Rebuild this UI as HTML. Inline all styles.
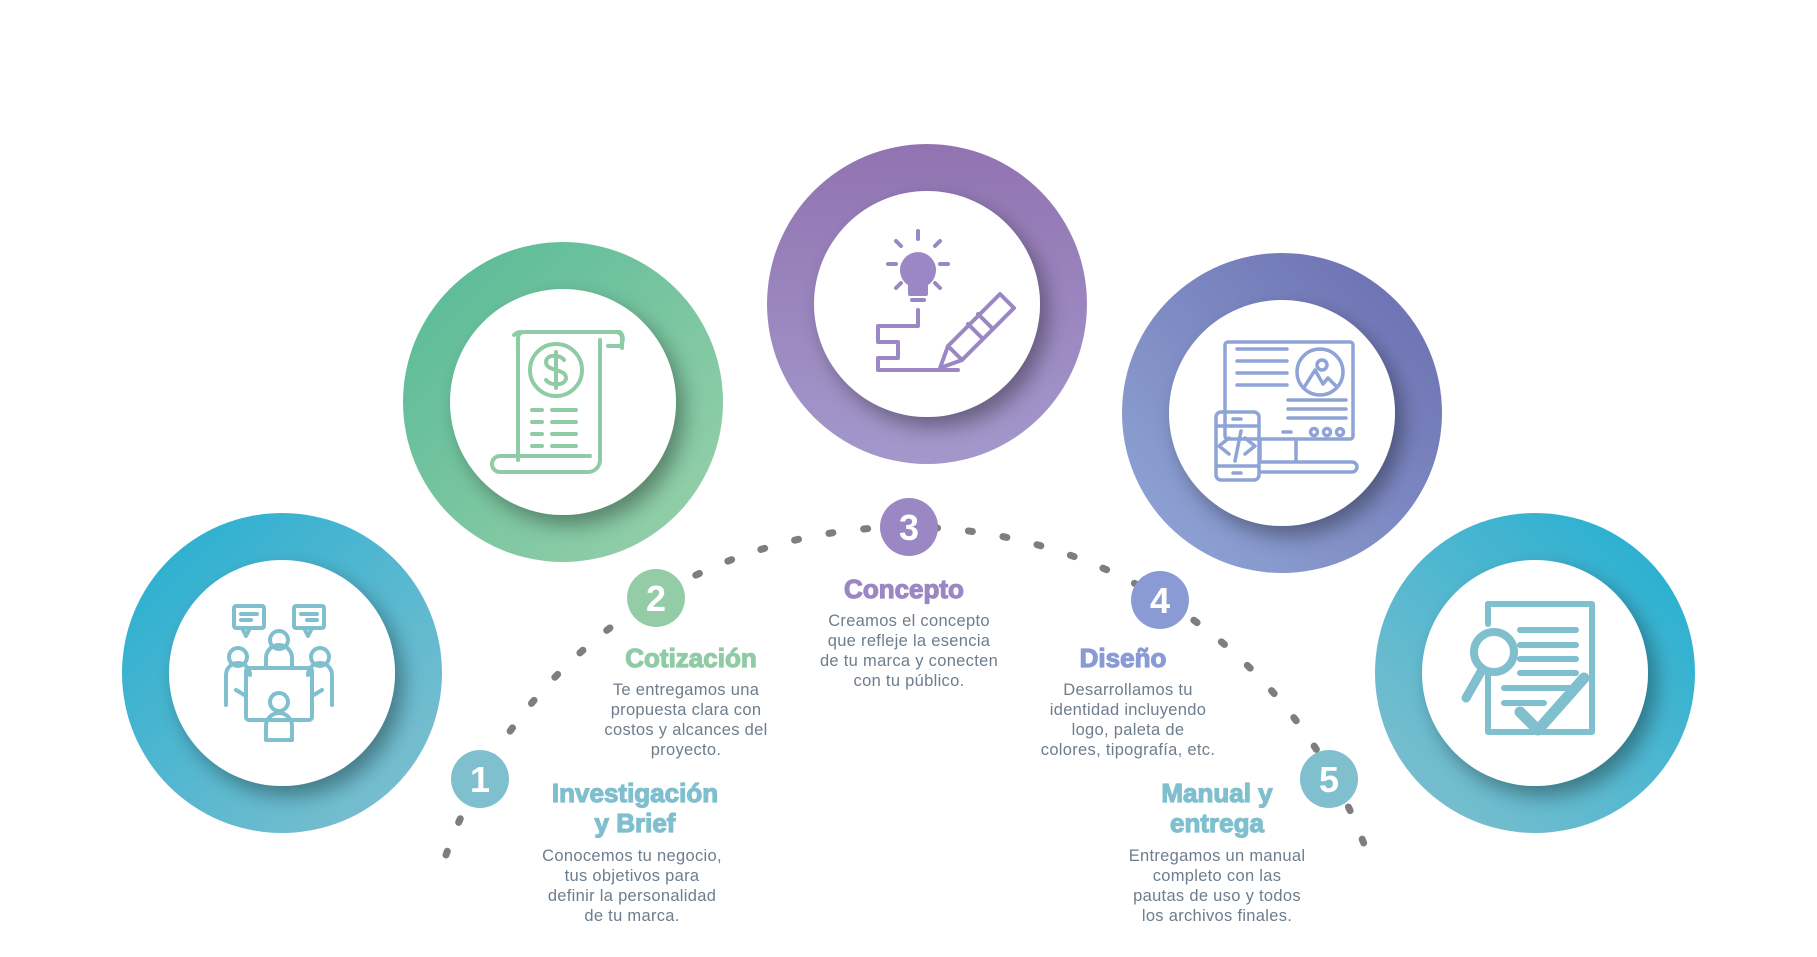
<!DOCTYPE html>
<html><head><meta charset="utf-8">
<style>
html,body{margin:0;padding:0;background:#fff;}
svg{display:block;}
.t{font-family:"Liberation Sans",sans-serif;font-weight:bold;font-size:26px;text-anchor:middle;stroke-width:1.2px;}
.b{font-family:"Liberation Sans",sans-serif;font-size:16.5px;fill:#6e7d8c;text-anchor:middle;letter-spacing:0.3px;}
.n{font-family:"Liberation Sans",sans-serif;font-weight:bold;font-size:36px;fill:#fff;text-anchor:middle;}
</style></head><body>
<svg width="1817" height="957" viewBox="0 0 1817 957" xmlns="http://www.w3.org/2000/svg">
<defs>
<linearGradient id="g1" x1="0" y1="0" x2="1" y2="1"><stop offset="0" stop-color="#22aed2"/><stop offset="1" stop-color="#85c0cd"/></linearGradient>
<linearGradient id="g2" x1="0" y1="0" x2="1" y2="1"><stop offset="0" stop-color="#55b996"/><stop offset="1" stop-color="#9ad1aa"/></linearGradient>
<linearGradient id="g3" x1="0.5" y1="0" x2="0.5" y2="1"><stop offset="0" stop-color="#9173b1"/><stop offset="1" stop-color="#a398cb"/></linearGradient>
<linearGradient id="g4" x1="1" y1="0" x2="0" y2="1"><stop offset="0" stop-color="#6a6cae"/><stop offset="1" stop-color="#91a8d8"/></linearGradient>
<linearGradient id="g5" x1="1" y1="0" x2="0" y2="1"><stop offset="0" stop-color="#1eaed2"/><stop offset="1" stop-color="#85c0cd"/></linearGradient>
<filter id="sh" x="-30%" y="-30%" width="160%" height="160%"><feGaussianBlur in="SourceAlpha" stdDeviation="10"/><feOffset dx="8" dy="10"/><feComponentTransfer><feFuncA type="linear" slope="0.35"/></feComponentTransfer><feMerge><feMergeNode/><feMergeNode in="SourceGraphic"/></feMerge></filter>
</defs>

<path d="M446 855 A488 488 0 0 1 1368 855" fill="none" stroke="#7e7e7e" stroke-width="7" stroke-linecap="round" stroke-dasharray="4 31"/>

<circle cx="282" cy="673" r="160" fill="url(#g1)"/><circle cx="282" cy="673" r="113" fill="#fff" filter="url(#sh)"/>
<circle cx="563" cy="402" r="160" fill="url(#g2)"/><circle cx="563" cy="402" r="113" fill="#fff" filter="url(#sh)"/>
<circle cx="927" cy="304" r="160" fill="url(#g3)"/><circle cx="927" cy="304" r="113" fill="#fff" filter="url(#sh)"/>
<circle cx="1282" cy="413" r="160" fill="url(#g4)"/><circle cx="1282" cy="413" r="113" fill="#fff" filter="url(#sh)"/>
<circle cx="1535" cy="673" r="160" fill="url(#g5)"/><circle cx="1535" cy="673" r="113" fill="#fff" filter="url(#sh)"/>

<g fill="none" stroke="#7fbfce" stroke-width="4" stroke-linecap="round" stroke-linejoin="round">
<rect x="234" y="606" width="30" height="22" rx="2"/><path d="M242 628 l4 8 l4-8"/><path d="M241 614h16M241 620h10"/>
<rect x="294" y="606" width="30" height="22" rx="2"/><path d="M304 628 l4 8 l4-8"/><path d="M301 614h16M307 620h10"/>
<circle cx="279" cy="640" r="9"/><path d="M266 668 v-10 a13 13 0 0 1 26 0 v10"/>
<circle cx="238" cy="657" r="9"/><path d="M226 705 v-30 a12 12 0 0 1 24 0"/>
<circle cx="320" cy="657" r="9"/><path d="M332 705 v-30 a12 12 0 0 0 -24 0"/>
<rect x="246" y="668" width="66" height="52" rx="3"/>
<circle cx="279" cy="702" r="9"/><path d="M266 740 v-14 a13 13 0 0 1 26 0 v14z"/>
<path d="M236 690 l10 6 M322 690 l-10 6"/>
</g>

<g fill="none" stroke="#8fcca5" stroke-width="4" stroke-linecap="round" stroke-linejoin="round">
<path d="M518 460 V338 a6 6 0 0 1 6-6 H616 a6 6 0 0 1 6 6 V348 M514 335 a10 10 0 0 1 8-3"/>
<path d="M602 332 h18 a10 10 0 0 1 0 14 h-12"/>
<path d="M600 340 V460 a12 12 0 0 1 -12 12 H500 a8 8 0 0 1 0-16 H590"/>
<circle cx="556" cy="370" r="26"/>
<path d="M564 360 c-4-6-18-6-18 2 c0 10 20 6 20 16 c0 8-16 8-20 2 M556 352v36"/>
<path d="M532 410h10M552 410h24M532 422h10M552 422h24M532 434h10M552 434h24M532 446h10M552 446h24"/>
</g>

<g fill="none" stroke="#9a87c3" stroke-width="4" stroke-linecap="round" stroke-linejoin="round">
<path d="M918 231v8M896 241l5 5M940 241l-5 5M888 264h8M940 264h8M896 288l5-5M940 288l-5-5"/>
<path d="M910 284 a16 16 0 1 1 16 0 v10 h-16z" fill="#9a87c3"/>
<path d="M912 300h12"/>
<path d="M918 310 v16 h-40 v16 h20 v16 h-20 v12 h80"/>
<path d="M940 368 l8-22 l52-52 l14 14 l-52 52z M948 346 l14 14 M968 324 l14 14 M978 314 l14 14"/>
</g>

<g fill="none" stroke="#8ea4d6" stroke-width="3.5" stroke-linecap="round" stroke-linejoin="round">
<rect x="1225" y="342" width="128" height="97" rx="3"/>
<path d="M1237 349h50M1237 361h50M1237 373h50M1237 385h50M1288 400h58M1288 409h58M1288 418h58M1283 432h8"/>
<circle cx="1320" cy="372" r="23"/><circle cx="1322" cy="365" r="5"/><path d="M1305 386 l10-16 l8 14 l5-6 l8 8"/>
<circle cx="1314" cy="432" r="3.5"/><circle cx="1327" cy="432" r="3.5"/><circle cx="1340" cy="432" r="3.5"/>
<path d="M1260 440v22M1296 440v22M1260 462h92a5 5 0 0 1 0 10h-92"/>
<rect x="1216" y="412" width="43" height="68" rx="5"/><path d="M1233 419h8M1233 473h8M1218 426h40M1218 466h40M1229 438l-10 8 10 8M1245 438l10 8-10 8M1241 431l-6 30"/>
</g>

<g fill="none" stroke="#7fbfce" stroke-width="6" stroke-linecap="round" stroke-linejoin="round">
<path d="M1488 604 h104 v128 h-104 v-60"/><path d="M1488 604v20"/>
<path d="M1520 630h56M1520 645h56M1520 659h56M1520 673h56M1504 688h68M1504 703h40"/>
<circle cx="1494" cy="652" r="20" stroke-width="8"/><path d="M1482 670 l-16 28" stroke-width="9"/>
<path d="M1520 712 l18 18 l46-52" stroke-width="11"/>
</g>

<circle cx="480" cy="779" r="29" fill="#7fbfce"/><text class="n" x="480" y="792">1</text>
<circle cx="656" cy="598" r="29" fill="#93cca6"/><text class="n" x="656" y="611">2</text>
<circle cx="909" cy="527" r="29" fill="#9a87c3"/><text class="n" x="909" y="540">3</text>
<circle cx="1160" cy="600" r="29" fill="#8a9ad4"/><text class="n" x="1160" y="613">4</text>
<circle cx="1329" cy="779" r="29" fill="#7fbfce"/><text class="n" x="1329" y="792">5</text>

<text class="t" x="635" y="802" fill="#7fbfce" stroke="#7fbfce">Investigación</text>
<text class="t" x="635" y="832" fill="#7fbfce" stroke="#7fbfce">y Brief</text>
<text class="b" x="632" y="861">Conocemos tu negocio,</text>
<text class="b" x="632" y="881">tus objetivos para</text>
<text class="b" x="632" y="901">definir la personalidad</text>
<text class="b" x="632" y="921">de tu marca.</text>

<text class="t" x="691" y="667" fill="#8fcca5" stroke="#8fcca5">Cotización</text>
<text class="b" x="686" y="695">Te entregamos una</text>
<text class="b" x="686" y="715">propuesta clara con</text>
<text class="b" x="686" y="735">costos y alcances del</text>
<text class="b" x="686" y="755">proyecto.</text>

<text class="t" x="904" y="598" fill="#9a87c3" stroke="#9a87c3">Concepto</text>
<text class="b" x="909" y="626">Creamos el concepto</text>
<text class="b" x="909" y="646">que refleje la esencia</text>
<text class="b" x="909" y="666">de tu marca y conecten</text>
<text class="b" x="909" y="686">con tu público.</text>

<text class="t" x="1123" y="667" fill="#8a9ad4" stroke="#8a9ad4">Diseño</text>
<text class="b" x="1128" y="695">Desarrollamos tu</text>
<text class="b" x="1128" y="715">identidad incluyendo</text>
<text class="b" x="1128" y="735">logo, paleta de</text>
<text class="b" x="1128" y="755">colores, tipografía, etc.</text>

<text class="t" x="1217" y="802" fill="#7fbfce" stroke="#7fbfce">Manual y</text>
<text class="t" x="1217" y="832" fill="#7fbfce" stroke="#7fbfce">entrega</text>
<text class="b" x="1217" y="861">Entregamos un manual</text>
<text class="b" x="1217" y="881">completo con las</text>
<text class="b" x="1217" y="901">pautas de uso y todos</text>
<text class="b" x="1217" y="921">los archivos finales.</text>
</svg>
</body></html>
